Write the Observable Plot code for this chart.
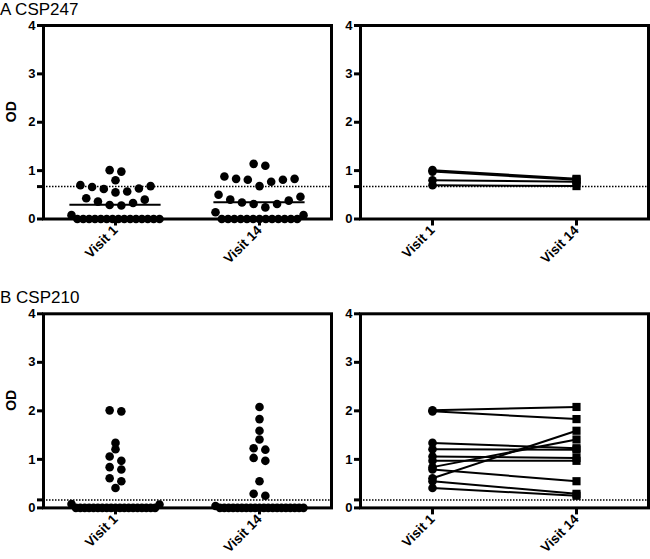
<!DOCTYPE html>
<html><head><meta charset="utf-8">
<script src="https://cdn.jsdelivr.net/npm/d3@7"></script>
<script src="https://cdn.jsdelivr.net/npm/@observablehq/plot@0.6"></script>
<style>
body{margin:0;background:#fff;}
#chart{position:relative;width:650px;height:559px;font-family:"Liberation Sans",Arial,sans-serif;overflow:hidden;}
.title{position:absolute;left:0;font-size:17px;line-height:1;color:#000;white-space:nowrap;}
.panel{position:absolute;}
.panel text{font-weight:bold;}
</style></head><body><div id="chart"></div>
<script>
// ---- data ----
const visits = ["Visit 1", "Visit 14"];
const yTicks = [0, 1, 2, 3, 4];
const titles = ["A CSP247", "B CSP210"];
const yLabel = "OD";

// Panel A (CSP247), all subjects
const aVisit1 = [1.01, 0.98, 0.80, 0.70, 0.68, 0.66, 0.63, 0.62, 0.57, 0.55, 0.43, 0.40, 0.36, 0.33, 0.29, 0.28, 0.08,
  0, 0, 0, 0, 0, 0, 0, 0, 0, 0, 0, 0, 0, 0, 0];
const aVisit14 = [1.14, 1.10, 0.88, 0.83, 0.83, 0.81, 0.81, 0.77, 0.68, 0.50, 0.46, 0.40, 0.38, 0.34, 0.31, 0.31, 0.24, 0.14, 0.08,
  0, 0, 0, 0, 0, 0, 0, 0, 0, 0, 0, 0, 0];
const aCutoff = 0.67;
// Panel A paired responders
const aPairV1 = [1.01, 0.98, 0.80, 0.70];
const aPairV14 = [0.83, 0.81, 0.77, 0.68];

// Panel B (CSP210), all subjects
const bVisit1 = [2.01, 1.99, 1.34, 1.21, 1.06, 0.97, 0.84, 0.79, 0.61, 0.55, 0.41, 0.08, 0.07,
  0, 0, 0, 0, 0, 0, 0, 0, 0, 0, 0, 0, 0, 0, 0, 0, 0, 0, 0];
const bVisit14 = [2.08, 1.83, 1.59, 1.41, 1.23, 1.20, 1.03, 0.97, 0.55, 0.29, 0.25, 0.04,
  0, 0, 0, 0, 0, 0, 0, 0, 0, 0, 0, 0, 0, 0, 0, 0, 0, 0, 0, 0];
const bCutoff = 0.165;
// Panel B paired responders
const bPairV1 = [2.01, 1.99, 1.34, 1.21, 1.06, 0.97, 0.84, 0.61, 0.79, 0.55, 0.41];
const bPairV14 = [2.08, 1.83, 1.23, 1.20, 1.03, 0.97, 1.41, 1.59, 0.55, 0.29, 0.25];

// ---- layout helpers ----
const FONT = "Liberation Sans, Arial, sans-serif";

// GraphPad-like scatter layout: group close values into rows, spread each row centre-out
function swarm(values, step = 11.7, maxW = 88, gap = 0.095) {
  const sorted = values.slice().sort((a, b) => a - b);
  const rows = [];
  let cur = null;
  for (const v of sorted) {
    if (cur && v - cur[cur.length - 1] < gap) cur.push(v);
    else { cur = [v]; rows.push(cur); }
  }
  const out = [];
  for (const row of rows) {
    const n = row.length;
    const s = n > 1 ? Math.min(step, maxW / (n - 1)) : 0;
    row.forEach((v, k) => {
      let slot;
      if (n % 2) slot = k === 0 ? 0 : (k % 2 ? (k + 1) / 2 : -k / 2);
      else slot = k % 2 === 0 ? (k / 2 + 0.5) : -((k - 1) / 2 + 0.5);
      out.push({od: v, off: slot * s});
    });
  }
  return out;
}

function yAxis(cut) {
  return Plot.axisY({
    ticks: [...yTicks, cut],
    tickFormat: d => yTicks.includes(d) ? String(d) : "",
    tickSize: 6, tickPadding: 2, strokeWidth: 3,
    fontSize: 13, fontWeight: "bold", fontFamily: FONT, fill: "#000", stroke: "#000",
    label: null
  });
}
function xAxis() {
  return Plot.axisX({
    ticks: [0, 1], tickFormat: i => visits[i],
    tickSize: 7, tickPadding: 2, strokeWidth: 3, tickRotate: -45,
    fontSize: 13.5, fontWeight: "bold", fontFamily: FONT, fill: "#000", stroke: "#000",
    label: null
  });
}

function leftPanel(v1, v14, cut, geo, showMean) {
  const W = 334, ml = 43, mr = 3;
  const upx = 2 / (W - ml - mr);
  const pts = [];
  [v1, v14].forEach((vals, vi) => swarm(vals).forEach(p => pts.push({x: vi + p.off * upx, od: p.od})));
  const means = [v1, v14].map((vals, vi) => ({vi, m: d3.mean(vals)}));
  const half = 45.6 * upx;
  return Plot.plot({
    width: W, height: geo.h, marginLeft: ml, marginRight: mr, marginTop: geo.mt, marginBottom: geo.mb,
    style: {fontFamily: FONT, fontSize: "13px", fontWeight: "bold", background: "transparent"},
    x: {domain: [-0.5, 1.5]},
    y: {domain: [0, 4]},
    marks: [
      Plot.ruleY([cut], {stroke: "#000", strokeWidth: 1.5, strokeDasharray: "1.5,1.5"}),
      Plot.dot(pts, {x: "x", y: "od", r: 4.3, fill: "#000", stroke: "none"}),
      showMean ? Plot.ruleY(means, {y: "m", x1: d => d.vi - half, x2: d => d.vi + half, stroke: "#000", strokeWidth: 2}) : null,
      Plot.frame({stroke: "#000", strokeWidth: 3}),
      yAxis(cut),
      xAxis(),
      Plot.text([yLabel], {frameAnchor: "left", dx: -32, rotate: -90, fontSize: 14, fontWeight: "bold", fontFamily: FONT, fill: "#000"})
    ]
  });
}

function rightPanel(p1, p14, cut, geo) {
  const W = 316, ml = 26, mr = 2;
  const rows = p1.flatMap((v, i) => [{id: i, vi: 0, od: v}, {id: i, vi: 1, od: p14[i]}]);
  return Plot.plot({
    width: W, height: geo.h, marginLeft: ml, marginRight: mr, marginTop: geo.mt, marginBottom: geo.mb,
    style: {fontFamily: FONT, fontSize: "13px", fontWeight: "bold", background: "transparent"},
    x: {domain: [-0.5, 1.5]},
    y: {domain: [0, 4]},
    marks: [
      Plot.ruleY([cut], {stroke: "#000", strokeWidth: 1.5, strokeDasharray: "1.5,1.5"}),
      Plot.line(rows, {x: "vi", y: "od", z: "id", stroke: "#000", strokeWidth: 2}),
      Plot.dot(rows.filter(d => d.vi === 0), {x: "vi", y: "od", r: 4.3, symbol: "circle", fill: "#000", stroke: "none"}),
      Plot.dot(rows.filter(d => d.vi === 1), {x: "vi", y: "od", r: 4.6, symbol: "square", fill: "#000", stroke: "none"}),
      Plot.frame({stroke: "#000", strokeWidth: 3}),
      yAxis(cut),
      xAxis()
    ]
  });
}

const chart = document.getElementById("chart");
function place(el, left, top) {
  el.classList.add("panel");
  el.style.left = left + "px";
  el.style.top = top + "px";
  chart.appendChild(el);
}
const geoA = {h: 280, mt: 25, mb: 61.5};
const geoB = {h: 279, mt: 33.3, mb: 51.6};
place(leftPanel(aVisit1, aVisit14, aCutoff, geoA, true), 0, 0);
place(rightPanel(aPairV1, aPairV14, aCutoff, geoA), 334, 0);
place(leftPanel(bVisit1, bVisit14, bCutoff, geoB, false), 0, 280);
place(rightPanel(bPairV1, bPairV14, bCutoff, geoB), 334, 280);

[[titles[0], 1], [titles[1], 289]].forEach(([t, top]) => {
  const d = document.createElement("div");
  d.className = "title";
  d.textContent = t;
  d.style.top = top + "px";
  chart.appendChild(d);
});
</script></body></html>
